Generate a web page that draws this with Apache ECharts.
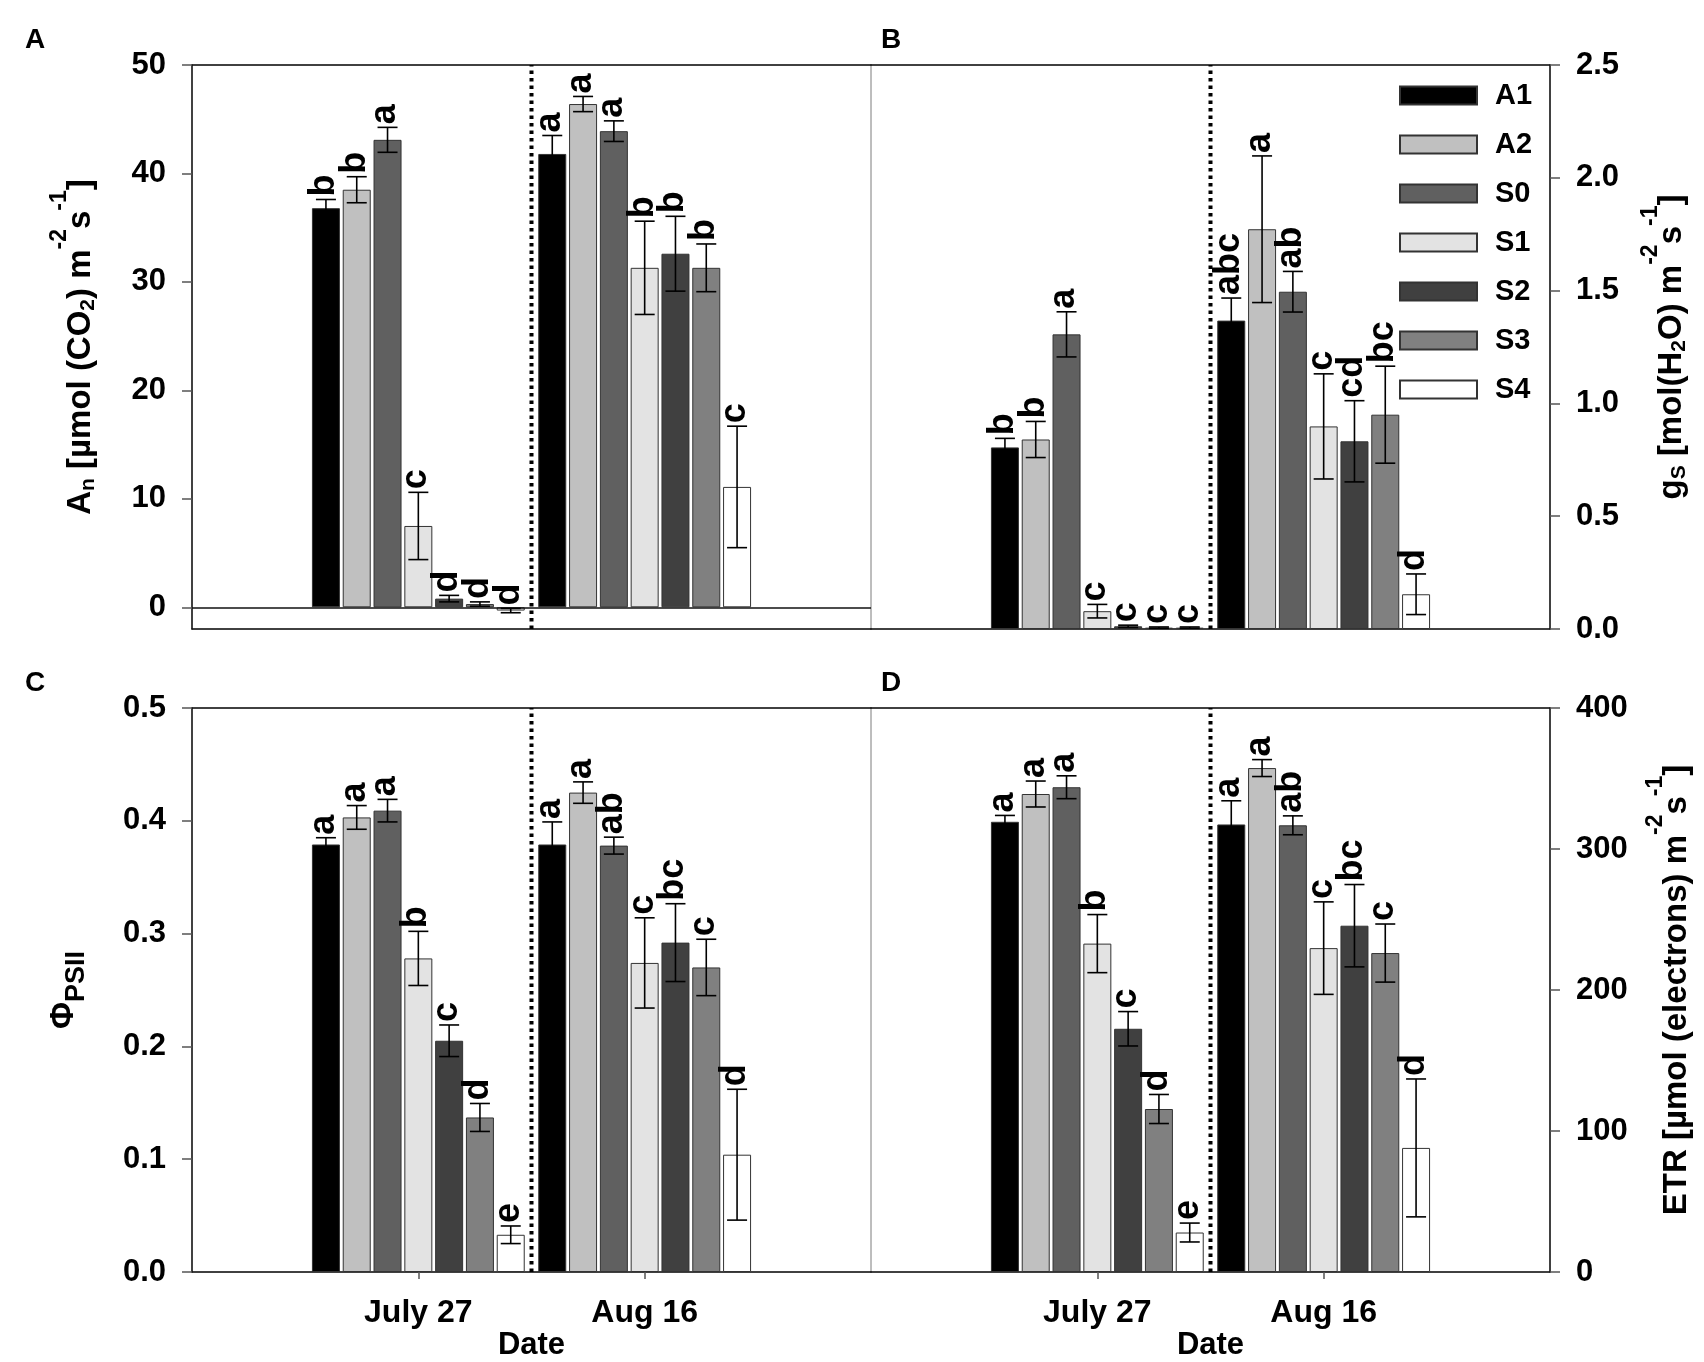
<!DOCTYPE html>
<html><head><meta charset="utf-8">
<script src="https://cdn.jsdelivr.net/npm/echarts@6/dist/echarts.min.js"></script>
<style>html,body{margin:0;padding:0;background:#fff}#c{width:1704px;height:1362px}</style>
</head><body><div id="c"></div>
<script>
// ---------- data ----------
const treatments = ['A1', 'A2', 'S0', 'S1', 'S2', 'S3', 'S4'];
const xCategories = ['', 'July 27', 'Aug 16', ''];
const barColors = ['#000000', '#c0c0c0', '#606060', '#e3e3e3', '#404040', '#808080', '#ffffff'];

// Panel A: net photosynthesis An
const anJuly = [36.8, 38.5, 43.1, 7.5, 0.8, 0.3, -0.3];
const anAug = [41.8, 46.4, 43.9, 31.3, 32.6, 31.3, 11.1];
const anErrJuly = [0.8, 1.2, 1.15, 3.1, 0.3, 0.2, 0.2];
const anErrAug = [1.7, 0.7, 0.95, 4.3, 3.45, 2.2, 5.6];
const anLetJuly = ['b', 'b', 'a', 'c', 'd', 'd', 'd'];
const anLetAug = ['a', 'a', 'a', 'b', 'b', 'b', 'c'];
const anTicks = [0, 10, 20, 30, 40, 50];

// Panel B: stomatal conductance gs
const gsJuly = [0.805, 0.84, 1.306, 0.079, 0.012, 0.006, 0.006];
const gsAug = [1.367, 1.772, 1.495, 0.898, 0.832, 0.95, 0.154];
const gsErrJuly = [0.04, 0.08, 0.1, 0.03, 0.005, 0.003, 0.003];
const gsErrAug = [0.1, 0.325, 0.09, 0.233, 0.18, 0.215, 0.09];
const gsLetJuly = ['b', 'b', 'a', 'c', 'c', 'c', 'c'];
const gsLetAug = ['abc', 'a', 'ab', 'c', 'cd', 'bc', 'd'];
const gsTicks = [0, 0.5, 1.0, 1.5, 2.0, 2.5];

// Panel C: PhiPSII
const phiJuly = [0.379, 0.403, 0.409, 0.278, 0.205, 0.137, 0.033];
const phiAug = [0.379, 0.425, 0.378, 0.274, 0.292, 0.270, 0.104];
const phiErrJuly = [0.006, 0.0105, 0.01, 0.024, 0.014, 0.0124, 0.0078];
const phiErrAug = [0.02, 0.0095, 0.0075, 0.04, 0.0345, 0.025, 0.058];
const phiLetJuly = ['a', 'a', 'a', 'b', 'c', 'd', 'e'];
const phiLetAug = ['a', 'a', 'ab', 'c', 'bc', 'c', 'd'];
const phiTicks = [0, 0.1, 0.2, 0.3, 0.4, 0.5];

// Panel D: ETR
const etrJuly = [319.3, 339.0, 343.8, 232.9, 172.5, 115.6, 28.0];
const etrAug = [317.4, 357.4, 316.8, 229.7, 245.6, 226.2, 88.0];
const etrErrJuly = [4.5, 9.2, 8.1, 20.6, 12.2, 10.3, 6.7];
const etrErrAug = [16.8, 6.0, 6.7, 32.8, 29.2, 20.6, 48.9];
const etrLetJuly = ['a', 'a', 'a', 'b', 'c', 'd', 'e'];
const etrLetAug = ['a', 'a', 'ab', 'c', 'bc', 'c', 'd'];
const etrTicks = [0, 100, 200, 300, 400];

// ---------- layout / style ----------
const FONT = '"Liberation Sans", Arial, Helvetica, sans-serif';
const BAR_W = 28, BAR_GAP = 0.1, PITCH = BAR_W * (1 + BAR_GAP);
const GW = 679, GH = 564;
const AXIS_LINE = { color: '#111', width: 1.5 };
const TICK_LINE = { color: '#555', width: 1.5 };
const LBL = 36;
const base = { fontWeight: 'bold', fontFamily: FONT, color: '#000' };
const richName = {
  t: Object.assign({ fontSize: 33, lineHeight: 66, verticalAlign: 'middle' }, base),
  sub: Object.assign({ fontSize: 21, verticalAlign: 'middle', padding: [14, 0, 0, 0] }, base),
  sup: Object.assign({ fontSize: 23, verticalAlign: 'top' }, base),
  phi: Object.assign({ fontSize: 33, lineHeight: 66, verticalAlign: 'middle' }, base),
  subp: Object.assign({ fontSize: 27, verticalAlign: 'middle', padding: [26, 0, 0, 0] }, base)
};

const panels = [
  { letter: 'A', left: 192, top: 65, mJ: anJuly, mA: anAug, eJ: anErrJuly, eA: anErrAug, lJ: anLetJuly, lA: anLetAug,
    yMin: -2, yMax: 50, ticks: anTicks, yPos: 'left', fmt: v => String(v), showX: false, zero: true,
    name: '{t|A}{sub|n}{t| [µmol (CO}{sub|2}{t|) m}{sup|-2}{t|s}{sup|-1}{t|]}', nameGap: 78 },
  { letter: 'B', left: 871, top: 65, mJ: gsJuly, mA: gsAug, eJ: gsErrJuly, eA: gsErrAug, lJ: gsLetJuly, lA: gsLetAug,
    yMin: 0, yMax: 2.5, ticks: gsTicks, yPos: 'right', fmt: v => v.toFixed(1), showX: false, zero: false,
    name: '{t|g}{sub|S}{t| [mol(H}{sub|2}{t|O) m}{sup|-2}{t|s}{sup|-1}{t|]}', nameGap: 89 },
  { letter: 'C', left: 192, top: 708, mJ: phiJuly, mA: phiAug, eJ: phiErrJuly, eA: phiErrAug, lJ: phiLetJuly, lA: phiLetAug,
    yMin: 0, yMax: 0.5, ticks: phiTicks, yPos: 'left', fmt: v => v.toFixed(1), showX: true, zero: false,
    name: '{phi|Φ}{subp|PSII}', nameGap: 95 },
  { letter: 'D', left: 871, top: 708, mJ: etrJuly, mA: etrAug, eJ: etrErrJuly, eA: etrErrAug, lJ: etrLetJuly, lA: etrLetAug,
    yMin: 0, yMax: 400, ticks: etrTicks, yPos: 'right', fmt: v => String(v), showX: true, zero: false,
    name: '{t|ETR [µmol (electrons) m}{sup|-2}{t|s}{sup|-1}{t|]}', nameGap: 94 }
];

const grids = [], xAxes = [], yAxes = [], series = [], titles = [];
const showCat = (i) => i === 1 || i === 2;

panels.forEach((p, g) => {
  grids.push({ left: p.left, top: p.top, width: GW, height: GH, show: true, borderColor: '#a8a8a8', borderWidth: 1 });
  xAxes.push({
    gridIndex: g, type: 'category', data: xCategories, boundaryGap: false, position: 'bottom',
    axisLine: { onZero: false, lineStyle: AXIS_LINE },
    axisTick: { show: p.showX, interval: showCat, length: 7, lineStyle: TICK_LINE },
    axisLabel: Object.assign({ show: p.showX, interval: showCat, margin: 25, fontSize: 32 }, base),
    splitLine: { show: false },
    name: p.showX ? 'Date' : '', nameLocation: 'middle', nameGap: 56,
    nameTextStyle: Object.assign({ fontSize: 31 }, base)
  });
  xAxes.push({
    gridIndex: g, type: 'category', data: xCategories, boundaryGap: false, position: 'top',
    axisLine: { onZero: false, lineStyle: AXIS_LINE }, axisTick: { show: false }, axisLabel: { show: false }, splitLine: { show: false }
  });
  yAxes.push({
    gridIndex: g, type: 'value', position: p.yPos, min: p.yMin, max: p.yMax,
    axisLine: { show: true, onZero: false, lineStyle: AXIS_LINE },
    axisTick: { show: true, customValues: p.ticks, length: 10, lineStyle: TICK_LINE },
    axisLabel: Object.assign({ customValues: p.ticks, formatter: p.fmt, margin: 26, fontSize: 31 }, base),
    splitLine: { show: false },
    name: p.name, nameLocation: 'middle', nameRotate: 90, nameGap: p.nameGap,
    nameTextStyle: { rich: richName }
  });
  titles.push({ text: p.letter, left: g % 2 === 0 ? 25 : 881, top: g < 2 ? 26 : 669, padding: 0,
    textStyle: Object.assign({ fontSize: 28 }, base) });

  // bars
  treatments.forEach((name, s) => {
    const ser = {
      type: 'bar', name, xAxisIndex: 2 * g, yAxisIndex: g,
      data: [null, p.mJ[s], p.mA[s], null],
      barWidth: BAR_W, barGap: (BAR_GAP * 100) + '%',
      itemStyle: { color: barColors[s], borderColor: '#333', borderWidth: 1 },
      emphasis: { disabled: true }, silent: true, z: 2
    };
    if (p.zero && s === 0) {
      ser.markLine = { silent: true, symbol: 'none', label: { show: false }, animation: false,
        lineStyle: { color: '#111', width: 1.5, type: 'solid' }, data: [{ yAxis: 0 }] };
    }
    series.push(ser);
  });

  // error bars + significance letters
  const items = [];
  treatments.forEach((_, s) => {
    items.push({ cat: 1, s, mean: p.mJ[s], err: p.eJ[s], lab: p.lJ[s] });
    items.push({ cat: 2, s, mean: p.mA[s], err: p.eA[s], lab: p.lA[s] });
  });
  series.push({
    type: 'custom', xAxisIndex: 2 * g, yAxisIndex: g, z: 5, silent: true, clip: false,
    data: items.map(it => [it.cat, it.mean]),
    renderItem: (params, api) => {
      const it = items[params.dataIndex];
      const c = api.coord([it.cat, it.mean]);
      const cx = c[0] + (it.s - 3) * PITCH;
      const yHi = api.coord([it.cat, it.mean + it.err])[1];
      const yLo = api.coord([it.cat, it.mean - it.err])[1];
      const st = { stroke: '#000', lineWidth: 1.6 };
      return {
        type: 'group', children: [
          { type: 'line', shape: { x1: cx, y1: yHi, x2: cx, y2: yLo }, style: st },
          { type: 'line', shape: { x1: cx - 10, y1: yHi, x2: cx + 10, y2: yHi }, style: st },
          { type: 'line', shape: { x1: cx - 10, y1: yLo, x2: cx + 10, y2: yLo }, style: st },
          { type: 'text', x: cx - 2, y: yHi - 3, rotation: Math.PI / 2,
            style: { text: it.lab, fill: '#000', font: 'bold ' + LBL + 'px ' + FONT,
              align: 'left', verticalAlign: 'middle', textAlign: 'left', textVerticalAlign: 'middle' } }
        ]
      };
    }
  });

  // dotted divider between the two dates
  series.push({
    type: 'custom', xAxisIndex: 2 * g, yAxisIndex: g, z: 6, silent: true, clip: false,
    data: [[1, p.yMin]],
    renderItem: (params, api) => {
      const pb = api.coord([1, p.yMin]);
      const pt = api.coord([2, p.yMax]);
      const x = (pb[0] + pt[0]) / 2;
      return { type: 'line', shape: { x1: x, y1: pb[1], x2: x, y2: pt[1] },
        style: { stroke: '#000', lineWidth: 4, lineDash: [3.4, 4.1] } };
    }
  });
});

const chart = echarts.init(document.getElementById('c'), null, { renderer: 'canvas' });
chart.setOption({
  backgroundColor: '#fff',
  animation: false,
  title: titles,
  legend: {
    left: 1399, top: 81, padding: 0, orient: 'vertical', itemWidth: 77, itemHeight: 18, itemGap: 20, icon: 'rect',
    data: treatments, selectedMode: false,
    formatter: n => '{g|}{n|' + n + '}',
    textStyle: { rich: { g: { width: 13, lineHeight: 18 }, n: Object.assign({ fontSize: 29, lineHeight: 18 }, base) } }
  },
  grid: grids, xAxis: xAxes, yAxis: yAxes, series
});
</script></body></html>
